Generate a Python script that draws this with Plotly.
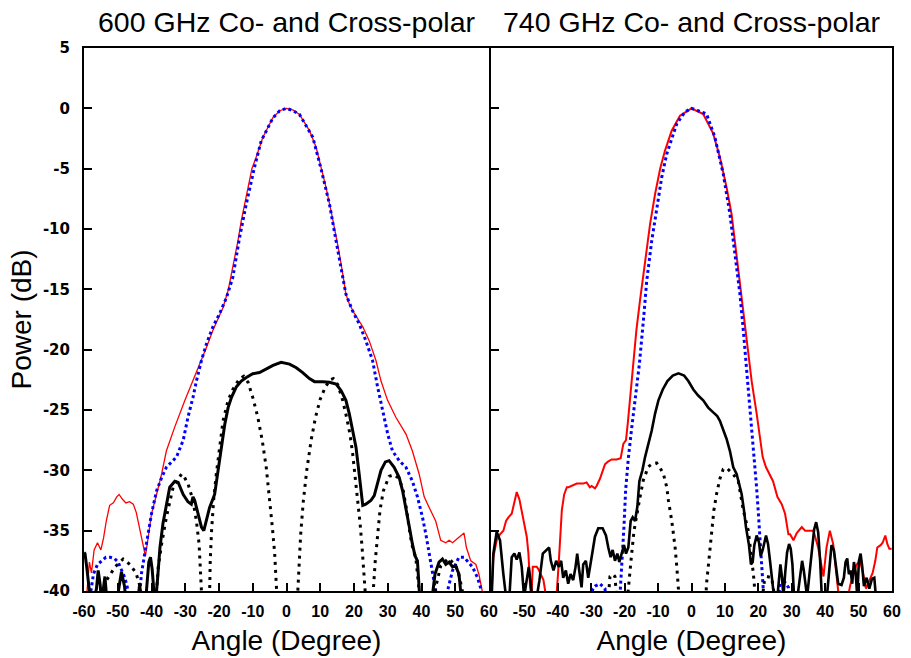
import plotly.graph_objects as go

# ---------------- 600 GHz (left panel) ----------------
L_red_x = [-59.4,-59.0,-58.4,-57.8,-57.0,-56.0,-55.0,-54.2,-53.4,-52.4,-51.3,-50.3,-49.6,-48.6,-47.6,-46.5,-45.4,-44.5,-43.6,-42.7,-41.8,-41.0,-40.0,-38.5,-37.0,-35.6,-33.1,-30.1,-27.7,-25.7,-23.7,-21.8,-18.8,-17.3,-15.9,-14.4,-13.4,-11.9,-10.25,-9.0,-7.0,-4.0,-2.0,0,2.0,3.84,6.8,8.77,10.44,11.7,13.2,14.2,15.5,16.65,17.6,18.6,20.1,22.6,24.5,26.5,28.0,29.95,32.4,35.4,37.3,39.3,40.8,42.3,44.2,45.7,47.2,48.2,49.2,51.1,52.6,53.3,54.6,56.1,57.0,58.0,58.5]
L_red_y = [-41.0,-39.5,-37.6,-38.5,-36.6,-36.0,-36.6,-35.6,-34.2,-32.9,-32.7,-32.2,-32.0,-32.4,-32.7,-32.6,-32.8,-33.5,-34.8,-36.0,-37.1,-35.6,-33.6,-32.0,-30.3,-28.4,-26.4,-24.2,-22.6,-21.2,-19.8,-18.4,-16.5,-15.1,-13.2,-11.0,-9.3,-7.1,-5.0,-4.06,-2.4,-0.75,-0.2,0,-0.15,-0.5,-1.85,-3.23,-5.0,-6.55,-8.5,-9.9,-11.8,-13.7,-15.4,-16.2,-17.0,-18.1,-19.25,-20.9,-22.6,-24.2,-25.6,-27.0,-28.4,-30.3,-32.2,-33.1,-34.2,-35.8,-36.0,-35.8,-36.0,-35.55,-35.2,-36.4,-37.5,-37.8,-38.6,-40.0,-41.0]

L_blue_x = [-58.5,-57.8,-57.2,-56.0,-54.8,-53.5,-52.3,-51.0,-49.9,-48.9,-47.9,-46.9,-46.0,-45.3,-44.5,-43.4,-43.0,-42.0,-41.0,-40.0,-38.5,-37.0,-35.6,-32.6,-30.6,-29.2,-27.7,-26.7,-25.2,-23.7,-21.8,-19.8,-17.8,-15.9,-13.9,-11.9,-9.5,-7.5,-4.04,-2.0,0,2.0,3.84,7.8,10.25,12.7,14.7,16.2,17.6,19.6,21.6,23.5,25.5,27.0,28.5,30.0,31.4,33.4,35.4,37.3,38.8,40.3,41.3,42.3,43.3,44.2,45.5,46.3,47.0,47.7,49.2,51.1,52.6,55.1,56.6,57.8,58.5]
L_blue_y = [-41.0,-39.6,-38.6,-37.8,-37.5,-37.2,-37.2,-37.3,-37.6,-38.2,-38.9,-40.0,-42.0,-50.0,-45.0,-40.0,-38.6,-36.9,-35.3,-33.6,-31.7,-30.6,-29.75,-28.9,-27.5,-25.6,-23.95,-22.6,-20.9,-19.5,-18.1,-17.0,-15.7,-14.0,-10.7,-7.9,-4.9,-2.7,-0.8,-0.2,0,-0.2,-0.5,-2.4,-5.03,-7.9,-11.0,-13.2,-15.4,-16.8,-17.9,-19.25,-20.9,-23.1,-25.05,-27.0,-28.4,-29.2,-29.75,-30.9,-32.2,-33.9,-35.3,-36.9,-38.3,-40.0,-45.0,-50.0,-45.0,-40.0,-38.3,-37.2,-37.2,-38.0,-38.9,-40.0,-41.0]

L_xmeas_x = [-60.0,-59.7,-59.2,-58.2,-57.3,-56.3,-55.8,-55.2,-54.8,-54.2,-53.8,-53.3,-51.0,-49.8,-48.9,-48.0,-47.5,-44.5,-43.8,-43.5,-43.2,-42.3,-41.5,-40.8,-40.3,-39.8,-39.3,-38.8,-38.2,-37.5,-36.6,-35.6,-34.6,-33.1,-32.1,-30.6,-29.2,-28.2,-27.7,-27.2,-26.2,-25.2,-24.5,-23.7,-22.8,-21.3,-20.3,-19.3,-18.3,-17.3,-16.3,-14.9,-13.4,-11.9,-10.0,-8.0,-6.0,-4.0,-1.6,0.9,2.9,4.8,6.8,8.3,10.7,12.7,14.7,16.2,17.6,18.6,19.6,20.6,21.4,22.1,22.6,23.5,25.0,26.0,27.0,28.0,29.3,30.4,31.9,33.4,34.4,35.4,36.4,37.3,38.1,38.8,39.3,39.8,43.0,43.4,44.0,45.2,46.2,47.2,48.2,49.2,50.1,51.1,51.6,52.0]
L_xmeas_y = [-36.8,-36.9,-38.0,-40.5,-41.0,-39.8,-38.3,-39.5,-41.0,-39.5,-38.8,-40.5,-42.0,-40.0,-38.4,-39.6,-41.0,-42.0,-40.5,-39.4,-40.5,-41.0,-40.0,-37.6,-37.2,-38.2,-40.0,-41.0,-39.0,-36.4,-34.4,-32.8,-31.4,-30.9,-31.0,-32.0,-32.6,-32.8,-32.2,-32.5,-33.6,-34.7,-35.0,-34.2,-33.1,-32.0,-30.0,-28.1,-26.2,-24.8,-23.95,-23.1,-22.6,-22.3,-22.0,-21.9,-21.6,-21.3,-21.05,-21.2,-21.5,-21.9,-22.4,-22.65,-22.65,-22.7,-22.85,-23.4,-24.2,-25.3,-26.7,-28.1,-30.0,-32.0,-32.9,-32.8,-32.5,-32.1,-31.1,-30.0,-29.3,-29.2,-29.75,-30.6,-31.7,-33.1,-34.7,-36.1,-37.1,-37.5,-40.0,-42.0,-42.0,-40.0,-38.6,-37.6,-37.35,-37.8,-37.6,-38.0,-37.9,-38.6,-40.0,-42.0]

L_xth_x = [-54.8,-53.3,-50.8,-48.4,-46.4,-44.6,-43.3,-42.5,-41.0,-39.5,-38.5,-38.0,-37.0,-35.6,-33.6,-31.1,-30.6,-29.2,-27.7,-26.7,-25.9,-25.5,-25.2,-24.5,-23.8,-23.1,-22.8,-22.6,-22.2,-21.6,-20.8,-19.8,-18.8,-17.3,-15.9,-13.9,-12.7,-11.4,-10.0,-8.5,-7.2,-6.0,-5.0,-4.2,-3.5,-3.05,-2.76,-2.0,0.3,2.6,3.35,3.65,4.2,5.0,6.0,7.3,8.6,10.0,11.5,12.9,13.9,15.2,16.65,17.8,18.8,19.6,20.4,21.1,21.8,22.4,22.9,23.3,23.8,24.5,25.2,25.7,26.3,27.0,27.7,28.7,30.4,31.9,33.4,34.6,35.6,36.6,37.5,38.3,38.8,39.3,40.0,41.5,43.0,44.2,45.7,48.0,50.2,51.3,52.1,52.8]
L_xth_y = [-41.0,-39.1,-38.0,-37.35,-37.8,-38.5,-39.7,-42.0,-50.0,-45.0,-40.0,-38.0,-36.1,-33.9,-31.4,-30.3,-30.4,-31.1,-32.5,-34.2,-36.1,-38.0,-40.0,-45.0,-50.0,-45.0,-40.0,-37.5,-35.0,-32.5,-30.3,-28.1,-25.9,-24.2,-23.3,-22.4,-22.2,-22.7,-23.95,-25.6,-27.5,-29.75,-32.2,-34.7,-36.9,-39.1,-40.0,-45.0,-50.0,-45.0,-40.0,-37.8,-35.3,-32.5,-30.0,-27.5,-25.6,-24.1,-23.1,-22.5,-22.4,-22.9,-24.2,-25.6,-27.0,-28.6,-30.6,-32.5,-34.4,-36.4,-38.3,-40.0,-45.0,-50.0,-45.0,-40.0,-37.5,-35.3,-33.3,-31.7,-30.5,-30.35,-30.7,-31.7,-33.3,-35.3,-36.6,-37.2,-38.9,-40.0,-45.0,-50.0,-45.0,-39.7,-37.9,-37.3,-37.9,-38.9,-40.0,-45.0]

# ---------------- 740 GHz (right panel) ----------------
R_red_x = [-60.0,-59.8,-59.3,-58.3,-57.3,-56.3,-55.5,-54.8,-53.8,-52.8,-52.3,-51.5,-50.3,-49.3,-48.8,-48.3,-47.9,-47.5,-46.3,-45.8,-44.3,-43.5,-40.8,-40.3,-39.8,-39.3,-38.8,-38.1,-37.3,-36.8,-35.3,-34.3,-32.4,-31.4,-30.4,-29.9,-28.9,-28.4,-27.4,-26.7,-25.9,-25.1,-23.9,-22.4,-21.2,-20.4,-19.6,-19.0,-18.3,-17.4,-16.5,-15.4,-13.9,-12.4,-10.9,-9.4,-7.93,-5.93,-3.44,0,3.5,6.5,8.5,10.5,12.0,13.5,15.0,16.5,18.0,19.5,20.5,21.3,22.3,23.4,24.4,25.7,27.0,28.0,28.5,29.0,29.5,30.5,31.5,33.0,34.0,35.5,36.5,37.9,39.0,39.5,40.4,41.4,42.4,43.4,43.9,44.5,46.5,47.5,48.5,49.4,50.4,51.4,52.2,53.4,54.2,55.0,55.6,56.6,57.2,58.0,58.6,59.2,59.9]
R_red_y = [-40.5,-40.0,-37.2,-35.8,-35.3,-35.0,-34.2,-33.9,-33.6,-32.5,-31.8,-32.4,-34.2,-35.5,-36.9,-39.7,-40.5,-38.0,-38.0,-38.2,-39.1,-40.5,-41.0,-40.0,-38.0,-35.8,-33.3,-32.0,-31.4,-31.4,-31.2,-31.1,-31.1,-31.0,-31.4,-31.3,-31.5,-31.3,-30.7,-30.2,-29.5,-29.3,-29.1,-29.1,-29.0,-27.8,-27.5,-25.9,-23.9,-21.2,-18.4,-15.9,-12.6,-9.6,-7.1,-5.03,-3.5,-1.85,-0.61,0,-0.47,-2.1,-4.06,-6.55,-8.76,-12.35,-15.7,-19.25,-22.6,-25.3,-27.5,-28.9,-29.75,-30.3,-30.9,-32.2,-32.8,-33.6,-34.4,-35.3,-35.3,-35.8,-35.2,-34.7,-35.0,-35.0,-35.0,-36.4,-38.3,-38.8,-36.4,-35.0,-36.1,-38.9,-40.0,-41.0,-41.0,-39.5,-38.5,-37.8,-37.5,-38.6,-39.8,-39.1,-38.5,-37.5,-36.4,-36.2,-36.0,-35.4,-36.1,-36.5,-36.5]

R_blue_x = [-30.5,-29.5,-28.9,-27.4,-25.9,-25.3,-23.0,-21.5,-21.2,-20.9,-20.6,-20.2,-19.7,-18.9,-17.9,-16.9,-15.6,-14.4,-13.4,-11.9,-10.4,-8.9,-7.43,-4.44,-2.0,0,2.0,4.5,7.0,9.5,11.5,13.0,14.5,15.5,16.5,17.3,18.0,18.7,19.5,20.0,20.5,21.0,21.5,22.0,24.0,25.8,26.5,28.0,29.0,29.7]
R_blue_y = [-41.0,-39.8,-39.6,-39.4,-39.8,-41.0,-48.0,-41.0,-40.0,-38.0,-36.9,-34.6,-31.6,-29.0,-26.5,-24.2,-21.2,-17.6,-14.3,-10.97,-8.2,-5.7,-3.8,-1.3,-0.3,0,-0.2,-0.47,-2.4,-5.44,-8.76,-12.1,-15.4,-18.4,-21.5,-24.2,-26.4,-28.9,-31.5,-33.5,-35.6,-37.4,-40.0,-45.0,-50.0,-41.0,-39.4,-39.3,-39.7,-41.0]

R_xmeas_x = [-59.8,-59.3,-58.3,-57.3,-56.3,-55.5,-54.5,-53.8,-53.0,-52.3,-51.5,-50.8,-50.1,-49.3,-48.7,-48.1,-47.7,-46.3,-45.5,-44.5,-43.5,-42.6,-42.1,-41.3,-40.5,-39.7,-39.0,-38.4,-37.6,-36.9,-36.2,-35.4,-34.7,-34.2,-33.6,-32.9,-32.4,-31.6,-30.9,-30.2,-29.6,-28.9,-27.9,-26.6,-25.6,-24.9,-24.2,-23.6,-22.9,-22.2,-21.6,-20.9,-20.2,-19.6,-18.9,-18.2,-17.6,-16.9,-16.2,-15.6,-14.7,-13.9,-12.9,-11.9,-10.9,-9.9,-8.6,-7.2,-5.6,-3.9,-2.2,-0.95,0.55,2.0,3.5,5.0,6.5,7.7,8.5,9.5,10.5,11.5,12.5,13.5,14.3,15.0,15.7,16.3,17.2,17.8,18.3,18.8,19.5,20.2,20.7,21.3,22.3,22.9,23.5,24.1,24.7,25.7,26.2,26.6,27.1,27.5,28.1,28.6,29.2,29.7,30.2,30.7,31.7,32.5,33.1,33.6,34.1,34.6,35.3,36.0,36.7,37.3,37.9,38.5,39.0,40.5,41.2,41.9,42.6,43.2,43.9,44.9,45.6,46.1,46.6,47.1,47.6,48.1,48.6,49.1,49.6,50.1,50.6,51.1,51.6,52.4,53.2,54.0,54.7,55.2]
R_xmeas_y = [-40.5,-36.9,-35.1,-35.8,-38.6,-40.5,-40.5,-37.2,-36.9,-37.4,-36.8,-38.0,-40.5,-38.9,-38.0,-39.4,-40.5,-40.5,-39.1,-36.9,-36.6,-36.4,-37.5,-38.3,-37.5,-38.0,-37.5,-38.9,-38.3,-39.4,-38.6,-39.1,-38.0,-36.9,-38.3,-39.7,-37.8,-37.5,-38.9,-37.5,-36.7,-35.5,-34.8,-34.8,-35.4,-36.4,-37.2,-36.6,-37.5,-36.9,-37.6,-36.9,-36.2,-36.9,-36.4,-34.2,-33.9,-34.2,-33.0,-30.9,-30.0,-28.9,-27.8,-26.7,-25.3,-24.2,-23.3,-22.6,-22.15,-21.96,-22.15,-22.6,-23.3,-23.8,-24.2,-24.8,-25.2,-25.5,-25.9,-26.6,-27.4,-28.4,-29.75,-30.3,-31.1,-31.96,-33.3,-34.7,-36.2,-37.8,-37.6,-36.2,-35.4,-35.96,-37.1,-36.6,-35.4,-36.1,-37.5,-38.9,-40.5,-40.5,-38.9,-37.8,-38.9,-40.5,-38.3,-36.8,-36.1,-36.5,-37.8,-40.5,-40.5,-38.9,-37.5,-38.3,-39.4,-40.5,-38.6,-36.6,-34.9,-34.3,-35.1,-37.5,-40.5,-40.5,-38.0,-36.2,-36.6,-38.0,-39.4,-39.5,-38.9,-37.6,-37.3,-38.6,-38.3,-39.4,-37.6,-38.4,-40.5,-37.5,-36.9,-38.0,-39.6,-38.9,-39.8,-39.0,-38.9,-40.5]

R_xth_x = [-25.0,-24.4,-23.5,-22.9,-22.3,-20.5,-19.3,-18.9,-18.6,-17.9,-17.2,-16.4,-15.4,-14.4,-12.9,-11.5,-10.4,-9.4,-8.4,-7.4,-6.9,-5.9,-4.9,-4.4,-3.9,-3.6,0.5,4.2,4.5,5.0,5.5,6.0,6.7,7.5,8.5,9.5,10.5,12.0,13.0,14.0,15.5,17.0,17.7,18.2,18.7,19.0,19.5,20.3,21.0,21.8,22.5,24.0,24.6,25.0]
R_xth_y = [-41.0,-38.8,-38.6,-38.8,-41.0,-48.0,-41.0,-39.7,-38.6,-36.9,-35.0,-33.6,-32.2,-30.8,-29.7,-29.4,-29.4,-29.8,-30.3,-31.4,-32.5,-34.2,-36.4,-38.0,-39.4,-41.0,-50.0,-41.0,-39.4,-38.0,-36.4,-35.0,-33.3,-31.96,-30.7,-29.9,-29.8,-30.2,-30.5,-30.9,-33.3,-35.0,-36.4,-37.8,-39.1,-40.0,-42.0,-48.0,-41.0,-39.2,-38.8,-38.9,-40.0,-42.0]

X_TICKS_L = [-60, -50, -40, -30, -20, -10, 0, 10, 20, 30, 40, 50, 60]
X_TICKS_R = [-50, -40, -30, -20, -10, 0, 10, 20, 30, 40, 50, 60]
Y_TICKS = [5, 0, -5, -10, -15, -20, -25, -30, -35, -40]
TITLES = ["600 GHz Co- and Cross-polar", "740 GHz Co- and Cross-polar"]
X_LABEL = "Angle (Degree)"
Y_LABEL = "Power (dB)"

RED = "#ff0000"
BLUE = "#0000ff"
BLK = "#000000"

fig = go.Figure()

def add(x, y, color, width, dash, xa, ya):
    fig.add_trace(go.Scatter(x=x, y=y, mode="lines", xaxis=xa, yaxis=ya,
                             line=dict(color=color, width=width, dash=dash),
                             showlegend=False, hoverinfo="skip"))

# left panel
add(L_red_x, L_red_y, RED, 1.3, "solid", "x", "y")
add(L_blue_x, L_blue_y, BLUE, 3, "3px,3px", "x", "y")
add(L_xth_x, L_xth_y, BLK, 3, "3px,5px", "x", "y")
add(L_xmeas_x, L_xmeas_y, BLK, 3, "solid", "x", "y")
# right panel
add(R_red_x, R_red_y, RED, 2, "solid", "x2", "y2")
add(R_blue_x, R_blue_y, BLUE, 3, "3px,3px", "x2", "y2")
add(R_xth_x, R_xth_y, BLK, 3, "3px,5px", "x2", "y2")
add(R_xmeas_x, R_xmeas_y, BLK, 2.6, "solid", "x2", "y2")

INNER_W = 808.0
left_end = 405.0 / INNER_W
right_start = 407.0 / INNER_W

def lab(v):
    return str(v)  # plain hyphen-minus like the original

XTICKFONT = dict(family="Liberation Sans, Arial", size=16, color="black", weight="bold")
YTICKFONT = dict(family="DejaVu Sans", size=15, color="black", weight="bold")
TITLEFONT = dict(family="Liberation Sans, Arial", size=28, color="black")

common_x = dict(range=[-60, 60], showgrid=False, zeroline=False, showline=True,
                linecolor="black", linewidth=2, mirror=True, ticks="inside",
                ticklen=8, tickwidth=1.5, tickcolor="black", tickangle=0,
                tickfont=XTICKFONT, ticklabelstandoff=5,
                title=dict(text=X_LABEL, font=TITLEFONT, standoff=11))
common_y = dict(range=[-40, 5], showgrid=False, zeroline=False, showline=True,
                linecolor="black", linewidth=2, mirror=True, ticks="inside",
                ticklen=8, tickwidth=1.5, tickcolor="black",
                tickvals=Y_TICKS, ticktext=[lab(v) for v in Y_TICKS])

fig.update_layout(
    width=911, height=658,
    margin=dict(l=84, r=19, t=48, b=67, autoexpand=False),
    paper_bgcolor="white", plot_bgcolor="white",
    xaxis=dict(domain=[0, left_end], anchor="y", tickvals=X_TICKS_L,
               ticktext=[lab(v) for v in X_TICKS_L], **common_x),
    xaxis2=dict(domain=[right_start, 1], anchor="y2", tickvals=X_TICKS_R,
                ticktext=[lab(v) for v in X_TICKS_R], **common_x),
    yaxis=dict(anchor="x", showticklabels=True, ticklabelstandoff=9,
               tickfont=YTICKFONT, **common_y),
    yaxis2=dict(anchor="x2", showticklabels=False, **common_y),
    annotations=[
        dict(text=TITLES[0], xref="x domain", yref="paper", x=0.5, y=1, yanchor="bottom", yshift=8,
             showarrow=False, font=dict(family="Liberation Sans, Arial", size=28.5, color="black")),
        dict(text=TITLES[1], xref="x2 domain", yref="paper", x=0.5, y=1, yanchor="bottom", yshift=8,
             showarrow=False, font=dict(family="Liberation Sans, Arial", size=28.5, color="black")),
        dict(text=Y_LABEL, xref="paper", yref="paper", x=(21 - 84) / INNER_W, y=0.5,
             xanchor="center", yanchor="middle", textangle=-90, showarrow=False,
             font=TITLEFONT),
    ],
)

fig.write_html("out.html", config={"displayModeBar": False},
               post_script="document.body.style.margin='0px';")
